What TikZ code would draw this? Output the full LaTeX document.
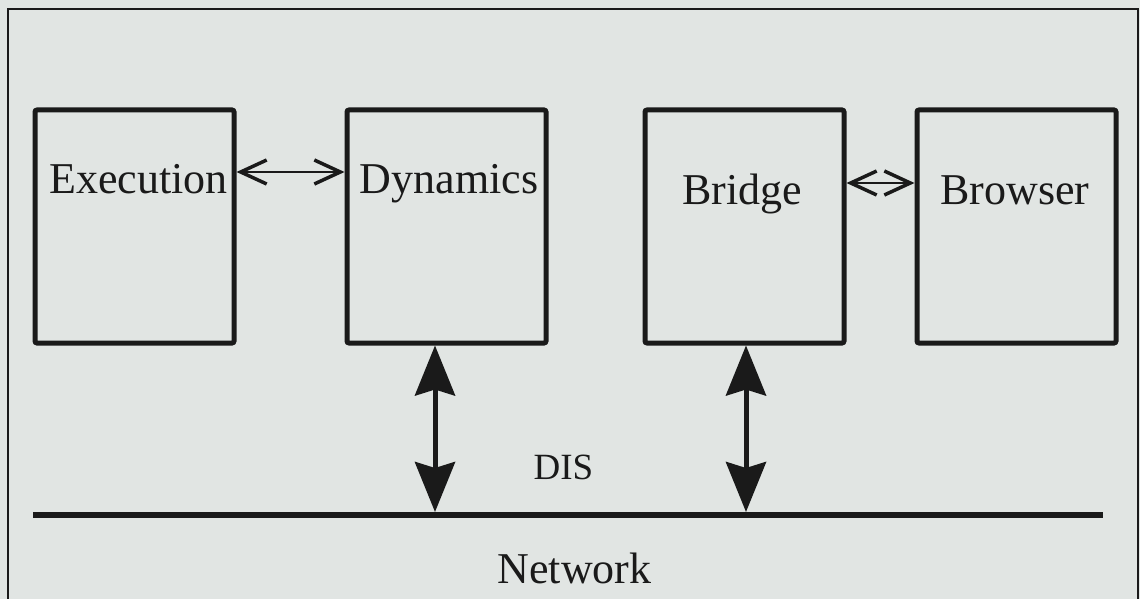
\documentclass[tikz,border=0pt]{standalone}
\usepackage{fontspec}
\setmainfont{Liberation Serif}
\usetikzlibrary{arrows.meta}
\definecolor{bg}{HTML}{E1E5E3}
\definecolor{ink}{HTML}{1A1A1A}
\begin{document}
\begin{tikzpicture}[x=1pt,y=-1pt,
  box/.style={draw=ink,line width=5pt,rounded corners=2pt,minimum width=199pt,minimum height=233pt,inner sep=0pt},
  lbl/.style={anchor=base,inner sep=0pt,font=\fontsize{44}{50}\selectfont,text=ink},
  smalllbl/.style={anchor=base,inner sep=0pt,font=\fontsize{37}{42}\selectfont,text=ink},
  thinarrow/.style={draw=ink,line width=1.3pt,{Straight Barb[length=26pt,width=24pt,line width=3.5pt]}-{Straight Barb[length=26pt,width=24pt,line width=3.5pt]}},
  bigarrow/.style={draw=ink,line width=5pt,{Stealth[length=50pt,width=40pt,inset=6pt]}-{Stealth[length=50pt,width=40pt,inset=6pt]}},
  netline/.style={draw=ink,line width=6pt}]
\fill[bg] (0,0) rectangle (1140,599);
\useasboundingbox (0,0) rectangle (1140,599);
% outer frame
\draw[ink,line width=2.5pt] (8,599) -- (8,9) -- (1138,9) -- (1138,599);
% boxes
\node[box] (exe) at (134.5,226.5) {};
\node[box] (dyn) at (446.5,226.5) {};
\node[box] (bri) at (744.5,226.5) {};
\node[box] (bro) at (1016.5,226.5) {};
% labels
\node[lbl] (exet) at (138.5,193) {Execution};
\node[lbl] (dynt) at (449,193) {Dynamics};
\node[lbl] (brit) at (742,204) {Bridge};
\node[lbl] (brot) at (1015,204) {Browser};
\node[smalllbl] (dis) at (563.5,479) {DIS};
\node[lbl] (net) at (574.5,583) {Network};
% network line
\coordinate (netL) at (33,515);
\coordinate (netR) at (1103,515);
\draw[netline] (netL) -- (netR);
% horizontal arrows
\draw[thinarrow] ([yshift=54.5pt]exe.east) -- ([yshift=54.5pt]dyn.west);
\draw[thinarrow] ([yshift=43.5pt]bri.east) -- ([yshift=43.5pt]bro.west);
% vertical arrows
\draw[bigarrow,shorten >=3pt] ([xshift=-11.5pt]dyn.south) -- ([xshift=-11.5pt]dyn.south |- netL);
\draw[bigarrow,shorten >=3pt] ([xshift=1.5pt]bri.south) -- ([xshift=1.5pt]bri.south |- netL);
\end{tikzpicture}
\end{document}
